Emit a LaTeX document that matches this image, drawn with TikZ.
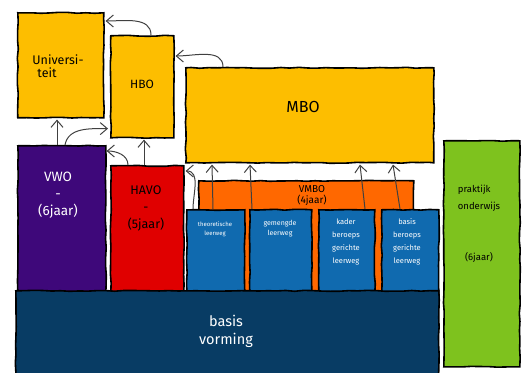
\documentclass[tikz,border=0pt]{standalone}
\usepackage{fontspec}
\setmainfont{Fira Sans}
\usetikzlibrary{arrows.meta,decorations.pathmorphing,calc}
\definecolor{gold}{RGB}{253,190,0}
\definecolor{vwocol}{RGB}{62,8,122}
\definecolor{havocol}{RGB}{224,0,0}
\definecolor{vmbocol}{RGB}{255,104,0}
\definecolor{leercol}{RGB}{16,106,175}
\definecolor{basiscol}{RGB}{8,60,100}
\definecolor{prakcol}{RGB}{126,194,30}
\tikzset{
  box/.style={draw=black, line width=1.6pt, anchor=north west, inner sep=0pt,
    decorate, decoration={random steps, segment length=9pt, amplitude=0.5pt}},
  arr/.style={draw=black!75, line width=1pt, -{Straight Barb[length=7pt,width=12pt,line width=1pt]}},
  txt/.style={inner sep=0pt, align=center},
}
\begin{document}
\pgfmathsetseed{7}
\begin{tikzpicture}[x=1pt,y=-1pt]
\useasboundingbox (0,0) rectangle (526,372);
% boxes
\node[box, fill=gold, minimum width=86pt, minimum height=105pt] (univ) at (17,12) {};
\node[box, fill=gold, minimum width=63pt, minimum height=102pt] (hbo) at (110,35) {};
\node[box, fill=gold, minimum width=248pt, minimum height=95pt] (mbo) at (185,67) {};
\node[box, fill=vmbocol, minimum width=215pt, minimum height=112pt] (vmbo) at (198,180) {};
\node[box, fill=vwocol, minimum width=88pt, minimum height=147pt] (vwo) at (17,145) {};
\node[box, fill=havocol, minimum width=73pt, minimum height=127pt] (havo) at (110,165) {};
\node[box, fill=leercol, minimum width=58pt, minimum height=83pt] (b1) at (186,209) {};
\node[box, fill=leercol, minimum width=62pt, minimum height=83pt] (b2) at (249,209) {};
\node[box, fill=leercol, minimum width=56pt, minimum height=83pt] (b3) at (318,209) {};
\node[box, fill=leercol, minimum width=57pt, minimum height=83pt] (b4) at (381,209) {};
\node[box, fill=basiscol, minimum width=423pt, minimum height=90pt] (basis) at (15,290) {};
\node[box, fill=prakcol, minimum width=76pt, minimum height=226pt] (prak) at (443,140) {};
% texts
\node[txt, align=left, font=\fontsize{12.5}{13}\selectfont] (tuniv) at (58,66) {Universi-\\\hspace{5pt}teit};
\node[txt, font=\fontsize{12}{13}\selectfont] (thbo) at (142,84) {HBO};
\node[txt, font=\fontsize{16}{16}\selectfont] (tmbo) at (303,107) {MBO};
\node[txt, text=white, font=\fontsize{13.5}{17}\selectfont] (tvwo) at (58,195) {VWO\\-\\(6jaar)};
\node[txt, font=\fontsize{12.5}{17}\selectfont] (thavo) at (146,208) {HAVO\\-\\(5jaar)};
\node[txt, font=\fontsize{10}{11}\selectfont] (tvmbo) at (312,196) {VMBO\\(4jaar)};
\node[txt, text=white, font=\fontsize{6}{9}\selectfont] (tb1) at (215,229) {theoretische\\leerweg};
\node[txt, text=white, font=\fontsize{7}{10}\selectfont] (tb2) at (280,229) {gemengde\\leerweg};
\node[txt, text=white, font=\fontsize{7.5}{13}\selectfont] (tb3) at (346,242) {kader\\beroeps\\gerichte\\leerweg};
\node[txt, text=white, font=\fontsize{7.5}{13}\selectfont] (tb4) at (407,242) {basis\\beroeps\\gerichte\\leerweg};
\node[txt, align=left, font=\fontsize{9.5}{17}\selectfont] (tprak) at (479,198) {praktijk\\onderwijs};
\node[txt, font=\fontsize{9.5}{11}\selectfont] (tprak2) at (479,257) {(6jaar)};
\node[txt, text=white, font=\fontsize{14.5}{18}\selectfont] (tbasis) at (226,331) {basis\\vorming};
% arrows
\draw[arr] ($(hbo.north west)+(41,0)$) to[out=90,in=0] ($(univ.north east)+(1,9)$);
\draw[arr] ($(mbo.north west)+(38,0)$) to[out=90,in=0] ($(hbo.north east)+(1,21)$);
\draw[arr] ($(vwo.north west)+(40,0)$) -- ($(univ.south west)+(40,1)$);
\draw[arr] ($(vwo.north west)+(48,0)$) to[out=80,in=180] ($(hbo.south west)+(-2,-10)$);
\draw[arr] ($(havo.north west)+(34,0)$) -- ($(hbo.south west)+(34,1)$);
\draw[arr] ($(havo.north west)+(18,0)$) to[out=90,in=0] ($(vwo.north east)+(0,6)$);
\draw[arr] ($(b1.north west)+(7,0)$) to[out=90,in=0] ($(havo.north east)+(1,6)$);
\draw[arr] ($(b1.north west)+(27,0)$) -- ($(mbo.south west)+(27,1)$);
\draw[arr] ($(b2.north west)+(3,0)$) -- ($(mbo.south west)+(65,1)$);
\draw[arr] ($(b3.north west)+(47,0)$) -- ($(mbo.south west)+(175,1)$);
\draw[arr] ($(b4.north west)+(19,0)$) -- ($(mbo.south west)+(208,1)$);
\end{tikzpicture}
\end{document}
